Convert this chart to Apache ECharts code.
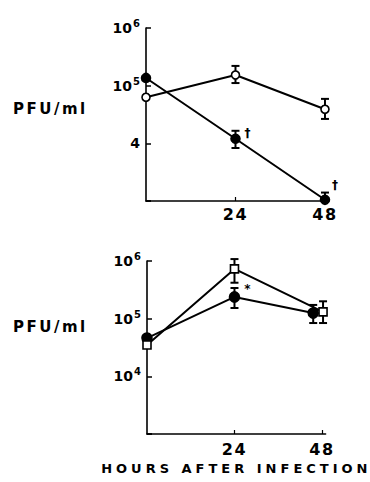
<!DOCTYPE html>
<html><head><meta charset="utf-8">
<script src="https://cdn.jsdelivr.net/npm/echarts@6/dist/echarts.min.js"></script>
<style>
html,body{margin:0;padding:0;background:#fff;}
#c{width:370px;height:482px;}
text[style*="16px"]{letter-spacing:1.5px;}
text[style*="15px"]{letter-spacing:2.5px;}
text[style*="13px"]{letter-spacing:4px;}
</style></head><body><div id="c"></div>
<script>
// ---- data ----
const hours = [0, 24, 48];
const topOpenVals = [6.3e4, 1.53e5, 3.9e4];
const topOpenLow = [null, 1.11e5, 2.65e4];
const topOpenHigh = [null, 2.2e5, 5.9e4];
const topFilledVals = [1.36e5, 1.2e4, 1.05e3];
const topFilledLow = [null, 8.3e3, 1.0e3];
const topFilledHigh = [null, 1.65e4, 1.4e3];
const topFilledNotes = ['', '†', '†'];
const bottomSquareHours = [0, 24, 48.3];
const bottomSquareVals = [3.5e4, 7.3e5, 1.31e5];
const bottomSquareLow = [null, 4.2e5, 8.4e4];
const bottomSquareHigh = [null, 1.08e6, 2.0e5];
const bottomCircleHours = [0, 24, 45.6];
const bottomCircleVals = [4.6e4, 2.38e5, 1.25e5];
const bottomCircleLow = [null, 1.53e5, 8.4e4];
const bottomCircleHigh = [null, 3.4e5, 1.73e5];
const bottomCircleNotes = ['', '*', ''];
const xTickValues = [24, 48];
// tick labels for exponents 3..6: [base, superscript]
const topYLabels = [null, ['4', ''], ['10', '5'], ['10', '6']];
const bottomYLabels = [null, ['10', '4'], ['10', '5'], ['10', '6']];
const yAxisTitle = 'PFU/ml';
const xAxisTitle = 'HOURS AFTER INFECTION';

// ---- layout / style ----
const FONT = 'DejaVu Sans';
const noteOffsetsTop = [null, [12, -6], [10, -15]];
const noteOffsetsBottom = [null, [13, -8], null];

function errSeries(idx, xs, lows, highs) {
  const data = [];
  xs.forEach((x, i) => { if (lows[i] != null) data.push([x, lows[i], highs[i]]); });
  return {
    type: 'custom', xAxisIndex: idx, yAxisIndex: idx, z: 2, silent: true, clip: false,
    animation: false,
    renderItem(params, api) {
      const x = api.value(0);
      const lo = api.coord([x, api.value(1)]);
      const hi = api.coord([x, api.value(2)]);
      const w = 4, st = { stroke: '#000', lineWidth: 2 };
      return { type: 'group', children: [
        { type: 'line', shape: { x1: lo[0], y1: lo[1], x2: hi[0], y2: hi[1] }, style: st },
        { type: 'line', shape: { x1: lo[0] - w, y1: lo[1], x2: lo[0] + w, y2: lo[1] }, style: st },
        { type: 'line', shape: { x1: hi[0] - w, y1: hi[1], x2: hi[0] + w, y2: hi[1] }, style: st }
      ] };
    },
    encode: { x: 0, y: [1, 2] },
    data
  };
}

function lineSeries(idx, xs, vals, symbol, size, fill, notes, offsets) {
  return {
    type: 'line', xAxisIndex: idx, yAxisIndex: idx, z: 3, clip: false,
    symbol, symbolSize: size, showAllSymbol: true, animation: false,
    emphasis: { disabled: true },
    lineStyle: { color: '#000', width: 2 },
    itemStyle: { color: fill, borderColor: '#000', borderWidth: 1.6, opacity: 1 },
    data: xs.map((x, i) => {
      const d = { value: [x, vals[i]] };
      if (notes && notes[i]) {
        d.label = { show: true, formatter: notes[i], position: 'inside', offset: offsets[i],
          color: '#000', fontSize: 12, fontWeight: 'bold', fontFamily: FONT };
      }
      return d;
    })
  };
}

function yAxis(idx, labels) {
  return {
    type: 'log', logBase: 10, min: 1000, max: 1e6, gridIndex: idx,
    axisLine: { lineStyle: { color: '#000', width: 1.6 } },
    axisTick: { inside: true, length: 5, lineStyle: { color: '#000', width: 1.5 } },
    splitLine: { show: false },
    axisLabel: {
      margin: 6, color: '#000', fontSize: 14, fontWeight: 'bold', fontFamily: FONT,
      formatter: v => {
        const l = labels[Math.round(Math.log10(v)) - 3];
        if (!l) return '';
        return l[1] ? l[0] + '{s|' + l[1] + '}' : l[0];
      },
      rich: {
        s: { fontSize: 10, fontWeight: 'bold', fontFamily: FONT, color: '#000', padding: [0, 0, 9, 1] }
      }
    }
  };
}

function xAxis(idx, margin, extra) {
  return Object.assign({
    type: 'value', min: 0, max: 49, gridIndex: idx,
    axisLine: { lineStyle: { color: '#000', width: 1.6 } },
    axisTick: { inside: true, length: 4, customValues: xTickValues, lineStyle: { color: '#000', width: 1.2 } },
    splitLine: { show: false },
    axisLabel: { customValues: xTickValues, margin, color: '#000', fontSize: 16, fontWeight: 'bold', fontFamily: FONT }
  }, extra || {});
}

const chart = echarts.init(document.getElementById('c'), null, { renderer: 'svg' });
chart.setOption({
  animation: false,
  backgroundColor: '#fff',
  grid: [
    { left: 146, top: 28, width: 182.7, height: 173 },
    { left: 147, top: 261, width: 178.6, height: 173 }
  ],
  xAxis: [
    xAxis(0, 5),
    xAxis(1, 7, { name: xAxisTitle, nameLocation: 'middle', nameGap: 28,
      nameTextStyle: { color: '#000', fontSize: 13, fontWeight: 'bold', fontFamily: FONT } })
  ],
  yAxis: [yAxis(0, topYLabels), yAxis(1, bottomYLabels)],
  graphic: [
    { type: 'text', left: 13, top: 101, style: { text: yAxisTitle, fill: '#000', fontSize: 15, fontWeight: 'bold', fontFamily: FONT } },
    { type: 'text', left: 13, top: 319, style: { text: yAxisTitle, fill: '#000', fontSize: 15, fontWeight: 'bold', fontFamily: FONT } }
  ],
  series: [
    errSeries(0, hours, topOpenLow, topOpenHigh),
    errSeries(0, hours, topFilledLow, topFilledHigh),
    lineSeries(0, hours, topOpenVals, 'circle', 8, '#fff'),
    lineSeries(0, hours, topFilledVals, 'circle', 9, '#000', topFilledNotes, noteOffsetsTop),
    errSeries(1, bottomSquareHours, bottomSquareLow, bottomSquareHigh),
    errSeries(1, bottomCircleHours, bottomCircleLow, bottomCircleHigh),
    lineSeries(1, bottomCircleHours, bottomCircleVals, 'circle', 10, '#000', bottomCircleNotes, noteOffsetsBottom),
    lineSeries(1, bottomSquareHours, bottomSquareVals, 'rect', 8, '#fff')
  ]
});
</script></body></html>
